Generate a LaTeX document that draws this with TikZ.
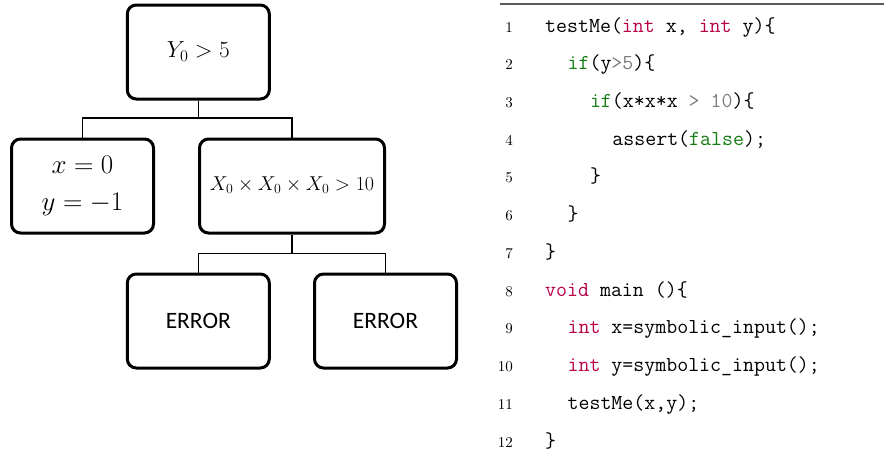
\documentclass[tikz,border=0pt]{standalone}
\usepackage{fontspec}
\usepackage{graphicx}
\newfontfamily\calib{Carlito}
\definecolor{kwcol}{RGB}{184,0,72}
\definecolor{grcol}{RGB}{20,125,20}
\definecolor{gycol}{RGB}{125,125,125}
\definecolor{rulecol}{RGB}{90,90,90}
\tikzset{
  box/.style={draw=black, line width=3pt, rounded corners=9pt, inner sep=0pt,
    minimum width=142pt, minimum height=94pt, align=center,
    font=\fontsize{20.74}{38}\selectfont},
  errbox/.style={box, font=\calib\fontsize{23.5}{28}\selectfont},
  link/.style={draw=black, line width=1.5pt},
  codeline/.style={anchor=base west, inner sep=0pt, font=\ttfamily\fontsize{21.3}{25}\selectfont},
  lnum/.style={anchor=base east, inner sep=0pt, font=\normalfont\normalsize},
}
\newcommand{\kw}[1]{\textcolor{kwcol}{#1}}
\newcommand{\gk}[1]{\textcolor{grcol}{#1}}
\newcommand{\gy}[1]{\textcolor{gycol}{#1}}
\newcommand{\mybigmath}[1]{\scalebox{1.3}{$#1$}}
\begin{document}
\begin{tikzpicture}[x=1pt,y=-1pt]
\useasboundingbox (0,0) rectangle (884,456);
% tree
\node[box] (top) at (198.3,52) {\raisebox{4pt}{\scalebox{1.12}{$Y_0>5$}}};
\node[box] (left) at (82.5,186) {\raisebox{4pt}{\shortstack{\mybigmath{x=0}\\[17pt]\mybigmath{y=-1}}}};
\node[box, minimum width=185pt] (right) at (292,186) {\raisebox{4pt}{\scalebox{0.965}{$X_0\times X_0\times X_0>10$}}};
\node[errbox] (e1) at (198.3,321) {ERROR};
\node[errbox] (e2) at (385.5,321) {ERROR};
\coordinate (m1) at (198.3,118);
\coordinate (m2) at (292,253.5);
\draw[link] (top.south) -- (m1) -| (left.north);
\draw[link] (m1) -| (right.north);
\draw[link] (right.south) -- (m2) -| (e1.north);
\draw[link] (m2) -| (e2.north);
% code
\coordinate (r1) at (500,4);
\coordinate (r2) at (884,4);
\draw[rulecol, line width=1.2pt] (r1) -- (r2);
\def\bl{37.73}
\foreach \i in {1,...,12}{
  \node[lnum] (n\i) at (513,{32+(\i-1)*\bl}) {\scalebox{1.5}{\i}};
}
\node[codeline] (c1) at (545,32) {testMe(\kw{int} x, \kw{int} y)\{};
\node[codeline] (c2) at (567.4,32+1*\bl) {\gk{if}(y\gy{>5})\{};
\node[codeline] (c3) at (589.8,32+2*\bl) {\gk{if}(x*x*x \gy{> 10})\{};
\node[codeline] (c4) at (612.2,32+3*\bl) {assert(\gk{false});};
\node[codeline] (c5) at (589.8,32+4*\bl) {\}};
\node[codeline] (c6) at (567.4,32+5*\bl) {\}};
\node[codeline] (c7) at (545,32+6*\bl) {\}};
\node[codeline] (c8) at (545,32+7*\bl) {\kw{void} main ()\{};
\node[codeline] (c9) at (567.4,32+8*\bl) {\kw{int} x=symbolic\_input();};
\node[codeline] (c10) at (567.4,32+9*\bl) {\kw{int} y=symbolic\_input();};
\node[codeline] (c11) at (567.4,32+10*\bl) {testMe(x,y);};
\node[codeline] (c12) at (545,32+11*\bl) {\}};
\end{tikzpicture}
\end{document}
